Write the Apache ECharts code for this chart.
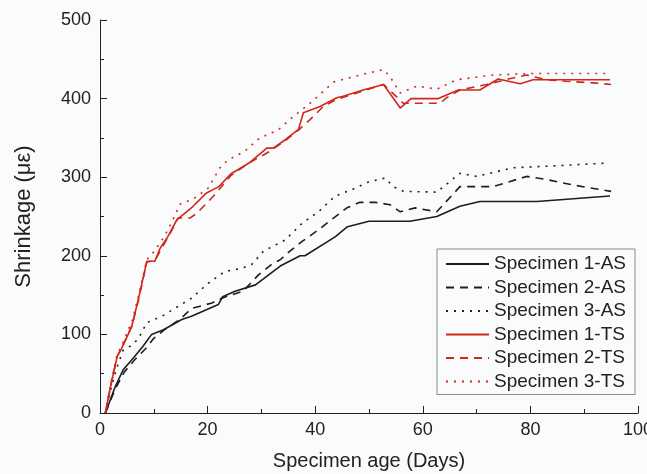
<!DOCTYPE html>
<html>
<head>
<meta charset="utf-8">
<script src="https://cdn.jsdelivr.net/npm/echarts@6/dist/echarts.min.js"></script>
<style>
html,body{margin:0;padding:0;background:#fafbfc;}
#chart{width:647px;height:474px;}
</style>
</head>
<body>
<div id="chart"></div>
<script>
// ---- data (days, shrinkage in microstrain) ----
const days1AS = [1, 2.8, 4.3, 6.2, 8, 9.6, 11.8, 15.2, 17, 22, 22.8, 25.1, 28.9, 33.5, 37.2, 38.1, 43.7, 46, 50, 57.6, 62.6, 66.9, 70.6, 81.2, 94.8];
const vals1AS = [0, 33, 55, 70, 85, 100, 106, 119, 123, 138, 148, 155, 163, 187, 200, 200, 224, 237, 244, 244, 250, 263, 269, 269, 276];

const days2AS = [1, 2.8, 4.5, 6.5, 8.5, 10, 12, 15, 17, 20.8, 23, 26.6, 29.5, 31.9, 33.5, 35.3, 37.5, 40.6, 43.4, 45.9, 48.3, 51.2, 53.9, 55.8, 58.6, 62.6, 66.9, 73.1, 79.3, 83, 88, 95];
const vals2AS = [0, 30, 52, 68, 82, 95, 106, 120, 133, 140, 147, 155, 176, 189, 195, 206, 218, 233, 248, 261, 268, 268, 265, 256, 261, 256, 288, 288, 301, 297, 290, 282];

const days3AS = [1, 2, 3, 4.3, 5.6, 7.1, 8.7, 11.5, 14.6, 17, 20.1, 23.2, 26.3, 28.2, 30.4, 34.4, 37.5, 40.6, 43.7, 46.8, 49.9, 53, 54.5, 56.4, 62.6, 66.9, 70, 76.8, 83, 94.5];
const vals3AS = [0, 30, 55, 80, 85, 94, 115, 123, 136, 146, 165, 180, 184, 189, 206, 220, 241, 256, 276, 284, 294, 299, 288, 282, 281, 305, 301, 312, 314, 318];

const days1TS = [1, 2, 3.2, 4, 5.9, 7.1, 8.7, 10.2, 11.2, 12.4, 14.3, 16.1, 17.3, 19.8, 22.1, 24.3, 27.7, 31, 32.2, 34.5, 36.9, 37.8, 40.9, 44, 45.2, 48.9, 52.7, 55.8, 57.8, 62.9, 66.6, 70.6, 74, 78.1, 80.5, 94.8];
const vals1TS = [0, 35, 72, 82, 110, 144, 193, 193, 210, 222, 246, 256, 263, 280, 288, 304, 318, 337, 337, 348, 361, 382, 390, 401, 403, 411, 418, 388, 400, 400, 411, 411, 425, 419, 424, 424];

const days2TS = [1, 2, 3.2, 4, 6, 7.2, 8.7, 10.2, 11.5, 13, 14.5, 16.7, 18, 21.1, 24.3, 27.7, 31.6, 34.5, 36.9, 39, 41.5, 44, 47.7, 52.7, 56.4, 63.2, 64.4, 66.9, 71.9, 75.9, 79.3, 83, 86.7, 91.7, 95];
const vals2TS = [0, 35, 72, 82, 112, 145, 192, 194, 210, 228, 248, 248, 254, 276, 302, 318, 333, 347, 360, 373, 390, 399, 407, 418, 394, 394, 401, 411, 418, 425, 430, 424, 422, 420, 418];

const days3TS = [1, 2, 3.2, 4, 6, 7.2, 8.7, 10, 12, 13.5, 14.9, 17.3, 20.1, 22.3, 23.8, 26.9, 29.7, 33.1, 35.9, 38.7, 41.8, 43.4, 48.3, 52.7, 53.9, 55.8, 58.9, 62.6, 66.3, 73.1, 80.5, 95];
const vals3TS = [0, 38, 75, 85, 118, 150, 195, 205, 225, 245, 266, 272, 286, 312, 322, 333, 350, 360, 377, 392, 411, 421, 430, 437, 428, 407, 416, 412, 424, 430, 432, 432];

const seriesNames = ['Specimen 1-AS', 'Specimen 2-AS', 'Specimen 3-AS', 'Specimen 1-TS', 'Specimen 2-TS', 'Specimen 3-TS'];
const xTicks = [0, 20, 40, 60, 80, 100];
const yTicks = [0, 100, 200, 300, 400, 500];

// ---- build ----
function zip(xs, ys) { return xs.map((x, i) => [x, ys[i]]); }
const BLACK = '#1e1e1e', RED = '#d0281c';
const FONT = '"Liberation Sans", Arial, sans-serif';
const dashed = [8, 6], dotted = [2, 6];
const defs = [
  [days1AS, vals1AS, BLACK, 'solid'],
  [days2AS, vals2AS, BLACK, dashed],
  [days3AS, vals3AS, BLACK, dotted],
  [days1TS, vals1TS, RED, 'solid'],
  [days2TS, vals2TS, RED, dashed],
  [days3TS, vals3TS, RED, dotted]
];
const series = defs.map((d, i) => ({
  name: seriesNames[i],
  type: 'line',
  data: zip(d[0], d[1]),
  symbol: 'none',
  showSymbol: false,
  animation: false,
  color: d[2],
  lineStyle: { color: d[2], width: 1.6, type: d[3] }
}));

const chart = echarts.init(document.getElementById('chart'), null, { renderer: 'canvas' });
chart.setOption({
  backgroundColor: '#fafbfc',
  animation: false,
  grid: { left: 100, right: 9, top: 20, bottom: 61, containLabel: false, outerBoundsMode: 'none' },
  xAxis: {
    type: 'value', min: xTicks[0], max: xTicks[xTicks.length - 1], interval: 20,
    name: 'Specimen age (Days)', nameLocation: 'middle', nameGap: 38,
    nameTextStyle: { fontFamily: FONT, fontSize: 20, color: '#222' },
    axisLine: { show: true, lineStyle: { color: '#222', width: 1 } },
    axisTick: { show: true, inside: true, length: 7, lineStyle: { color: '#222' } },
    minorTick: { show: true, splitNumber: 2, length: 4, lineStyle: { color: '#222' } },
    axisLabel: { fontFamily: FONT, fontSize: 18, color: '#222', margin: 8 },
    splitLine: { show: false }
  },
  yAxis: {
    type: 'value', min: yTicks[0], max: yTicks[yTicks.length - 1], interval: 100,
    name: 'Shrinkage (\u03bc\u03b5)', nameLocation: 'middle', nameGap: 65,
    nameTextStyle: { fontFamily: FONT, fontSize: 22, color: '#222' },
    axisLine: { show: true, lineStyle: { color: '#222', width: 1 } },
    axisTick: { show: true, inside: true, length: 7, lineStyle: { color: '#222' } },
    minorTick: { show: true, splitNumber: 2, length: 4, lineStyle: { color: '#222' } },
    axisLabel: { fontFamily: FONT, fontSize: 18, color: '#222', margin: 9 },
    splitLine: { show: false }
  },
  legend: {
    show: true,
    data: seriesNames,
    orient: 'vertical',
    left: 437, top: 249,
    padding: [5, 9, 3, 8],
    itemGap: 3.5,
    itemWidth: 43, itemHeight: 14,
    itemStyle: { opacity: 0 },
    borderColor: '#8a8a8a', borderWidth: 1,
    backgroundColor: '#fafbfc',
    textStyle: { fontFamily: FONT, fontSize: 19, color: '#222', lineHeight: 20 },
    selectedMode: false
  },
  series: series
});
</script>
</body>
</html>
